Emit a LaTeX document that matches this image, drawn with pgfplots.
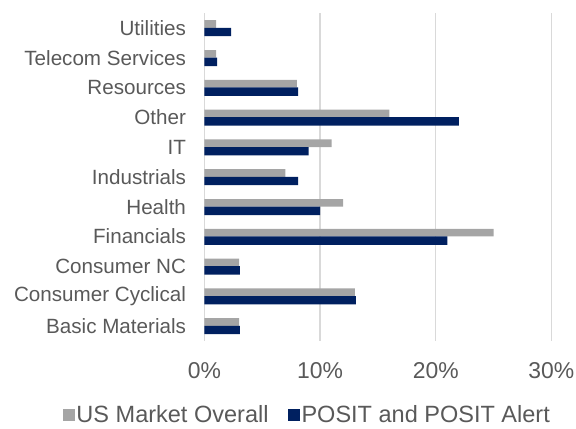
\documentclass[border=0pt]{standalone}
\usepackage{pgfplots}
\pgfplotsset{compat=1.18}
\usepackage{fontspec}
\setmainfont{Liberation Sans}
\definecolor{txt}{HTML}{595959}
\definecolor{grayb}{HTML}{A5A5A5}
\definecolor{navyb}{HTML}{002060}
\definecolor{gridc}{HTML}{D9D9D9}
\begin{document}
\begin{tikzpicture}[x=1bp,y=1bp]
\path[use as bounding box] (-204.5,-87.1) rectangle (371.5,340.9);
\begin{axis}[
  at={(0,0)}, anchor=south west,
  scale only axis,
  width=346.8bp, height=327.8bp,
  xmin=0, xmax=30, ymin=-0.5, ymax=10.5,
  xtick={0,10,20,30},
  xticklabel={\pgfmathprintnumber{\tick}\%},
  /pgf/number format/assume math mode=true,
  ytick={0,...,10},
  yticklabels={Basic Materials,Consumer Cyclical,Consumer NC,Financials,Health,Industrials,IT,Other,Resources,Telecom Services,Utilities},
  axis line style={draw=none},
  major tick length=0pt,
  xmajorgrids,
  grid style={gridc, line width=1.3bp},
  tick label style={text=txt},
  xticklabel style={font=\fontsize{23}{27}\selectfont, yshift=-18bp},
  yticklabel style={font=\fontsize{20.7}{24}\selectfont, xshift=-15bp},
  legend style={at={(0.296,-0.224)}, anchor=center, draw=none, fill=none,
    font=\fontsize{23.6}{27}\selectfont, text=txt, legend columns=2,
    /tikz/every even column/.append style={column sep=17bp},
    inner sep=0pt},
  legend image code/.code={\fill[#1] (-4bp,-6.5bp) rectangle (8bp,5.5bp);},
  clip=false,
]
\addplot[xbar, bar width=7.6bp, bar shift=4bp, fill=grayb, draw=none]
  coordinates {(3.0,0) (13.0,1) (3.0,2) (25.0,3) (12.0,4) (7.0,5) (11.0,6) (16.0,7) (8.0,8) (1.0,9) (1.0,10)};
\addlegendentry{US Market Overall}
\addplot[xbar, bar width=8.4bp, bar shift=-4bp, fill=navyb, draw=none]
  coordinates {(3.05,0) (13.1,1) (3.05,2) (21.0,3) (10.0,4) (8.1,5) (9.0,6) (22.0,7) (8.1,8) (1.1,9) (2.3,10)};
\addlegendentry{POSIT and POSIT Alert}
\end{axis}
\end{tikzpicture}
\end{document}
